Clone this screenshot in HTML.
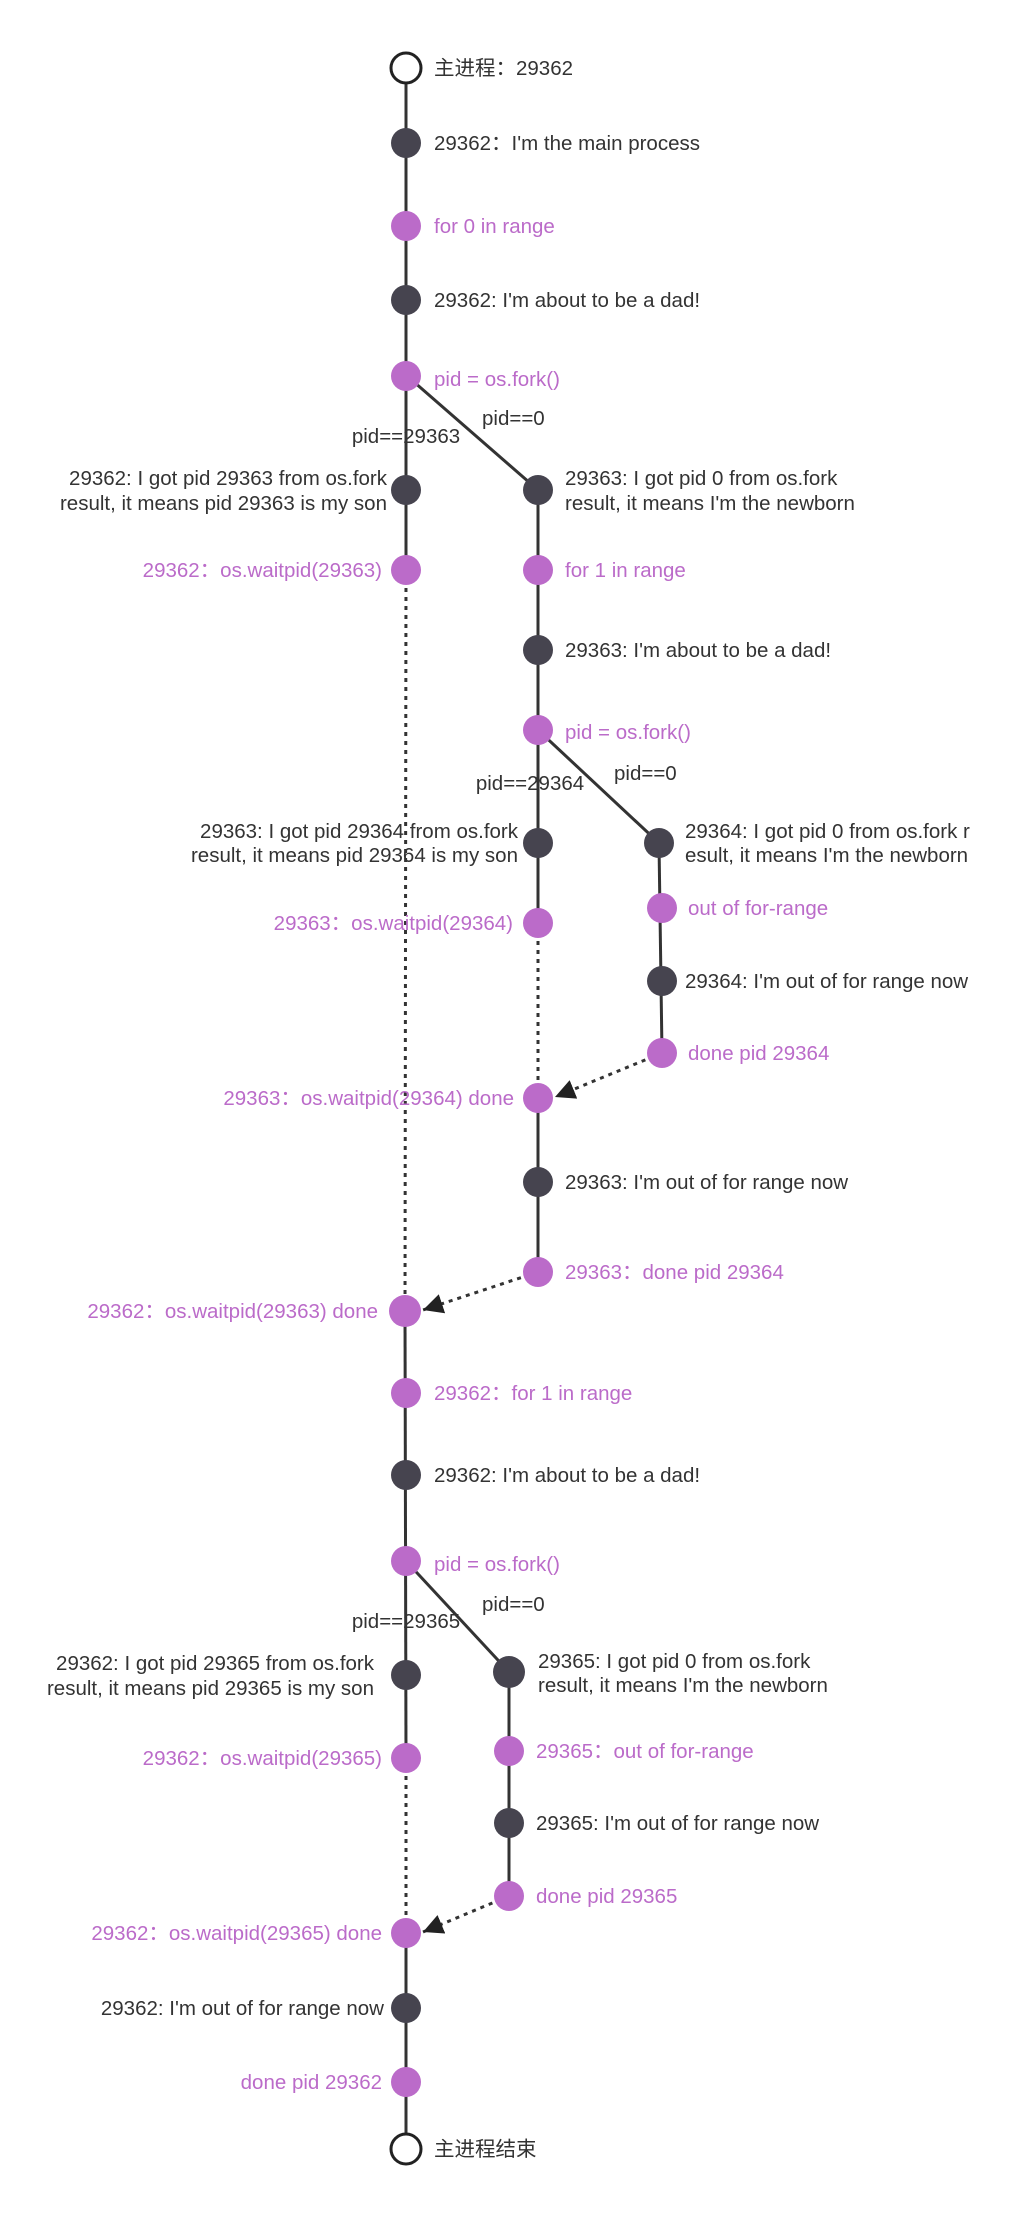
<!DOCTYPE html>
<html><head><meta charset="utf-8"><style>
html,body{margin:0;padding:0;background:#fff;}
svg{display:block;}
text{font-family:"Liberation Sans","Noto Sans CJK SC",sans-serif;font-size:20.5px;fill:#333;}
.p{fill:#bb6bc9;}
.e{text-anchor:end;}
.m{text-anchor:middle;}
</style></head><body>
<svg width="1023" height="2217" viewBox="0 0 1023 2217" xmlns="http://www.w3.org/2000/svg">
<defs>
<marker id="ar2" viewBox="0 0 10 10" markerWidth="20" markerHeight="20" refX="10" refY="5" orient="auto" markerUnits="userSpaceOnUse"><path d="M0,0 L10,5 L0,10 z" fill="#222"/></marker></defs>
<g stroke="#333" stroke-width="3" fill="none">
<line x1="406" y1="68" x2="406" y2="570"/>
<line x1="406" y1="375" x2="538" y2="490"/>
<line x1="538" y1="490" x2="538" y2="923"/>
<line x1="538" y1="730" x2="659" y2="843"/>
<line x1="659" y1="843" x2="662" y2="1053"/>
<line x1="538" y1="1098" x2="538" y2="1272"/>
<line x1="405" y1="1311" x2="406" y2="1758"/>
<line x1="406" y1="1933" x2="406" y2="2149"/>
<line x1="406" y1="1561" x2="509" y2="1672"/>
<line x1="509" y1="1672" x2="509" y2="1896"/>
</g>
<g stroke="#333" stroke-width="3" stroke-dasharray="4,5" fill="none">
<line x1="406" y1="570" x2="405" y2="1311"/>
<line x1="538" y1="923" x2="538" y2="1098"/>
<line x1="406" y1="1758" x2="406" y2="1933"/>
<line x1="662" y1="1053" x2="555" y2="1097" marker-end="url(#ar2)"/>
<line x1="538" y1="1272" x2="423" y2="1310" marker-end="url(#ar2)"/>
<line x1="509" y1="1896" x2="423" y2="1932" marker-end="url(#ar2)"/>
</g>
<g fill="#46444f">
<circle cx="406" cy="143" r="15"/><circle cx="406" cy="300" r="15"/>
<circle cx="406" cy="490" r="15"/><circle cx="538" cy="490" r="15"/>
<circle cx="538" cy="650" r="15"/><circle cx="538" cy="843" r="15"/>
<circle cx="659" cy="843" r="15"/><circle cx="662" cy="981" r="15"/>
<circle cx="538" cy="1182" r="15"/><circle cx="406" cy="1475" r="15"/>
<circle cx="406" cy="1675" r="15"/><circle cx="509" cy="1672" r="16"/>
<circle cx="509" cy="1823" r="15"/><circle cx="406" cy="2008" r="15"/>
</g>
<g fill="#bb6bc9">
<circle cx="406" cy="226" r="15"/><circle cx="406" cy="376" r="15"/>
<circle cx="406" cy="570" r="15"/><circle cx="538" cy="570" r="15"/>
<circle cx="538" cy="730" r="15"/><circle cx="538" cy="923" r="15"/>
<circle cx="662" cy="908" r="15"/><circle cx="662" cy="1053" r="15"/>
<circle cx="538" cy="1098" r="15"/><circle cx="538" cy="1272" r="15"/>
<circle cx="405" cy="1311" r="16"/><circle cx="406" cy="1393" r="15"/>
<circle cx="406" cy="1561" r="15"/><circle cx="406" cy="1758" r="15"/>
<circle cx="509" cy="1751" r="15"/><circle cx="509" cy="1896" r="15"/>
<circle cx="406" cy="1933" r="15"/><circle cx="406" cy="2082" r="15"/>
</g>
<circle cx="406" cy="68" r="15" fill="#fff" stroke="#222" stroke-width="3"/>
<circle cx="406" cy="2149" r="15" fill="#fff" stroke="#222" stroke-width="3"/>

<text x="434" y="75">主进程：29362</text>
<text x="434" y="150">29362：I'm the main process</text>
<text class="p" x="434" y="233">for 0 in range</text>
<text x="434" y="307">29362: I'm about to be a dad!</text>
<text class="p" x="434" y="386">pid = os.fork()</text>
<text x="482" y="425">pid==0</text>
<text class="m" x="406" y="443">pid==29363</text>
<text class="e" x="387" y="485">29362: I got pid 29363 from os.fork</text>
<text class="e" x="387" y="510">result, it means pid 29363 is my son</text>
<text x="565" y="485">29363: I got pid 0 from os.fork</text>
<text x="565" y="510">result, it means I'm the newborn</text>
<text class="p e" x="382" y="577">29362：os.waitpid(29363)</text>
<text class="p" x="565" y="577">for 1 in range</text>
<text x="565" y="657">29363: I'm about to be a dad!</text>
<text class="p" x="565" y="739">pid = os.fork()</text>
<text x="614" y="780">pid==0</text>
<text class="m" x="530" y="790">pid==29364</text>
<text class="e" x="518" y="838">29363: I got pid 29364 from os.fork</text>
<text class="e" x="518" y="862">result, it means pid 29364 is my son</text>
<text x="685" y="838">29364: I got pid 0 from os.fork r</text>
<text x="685" y="862">esult, it means I'm the newborn</text>
<text class="p e" x="513" y="930">29363：os.waitpid(29364)</text>
<text class="p" x="688" y="915">out of for-range</text>
<text x="685" y="988">29364: I'm out of for range now</text>
<text class="p" x="688" y="1060">done pid 29364</text>
<text class="p e" x="514" y="1105">29363：os.waitpid(29364) done</text>
<text x="565" y="1189">29363: I'm out of for range now</text>
<text class="p" x="565" y="1279">29363：done pid 29364</text>
<text class="p e" x="378" y="1318">29362：os.waitpid(29363) done</text>
<text class="p" x="434" y="1400">29362：for 1 in range</text>
<text x="434" y="1482">29362: I'm about to be a dad!</text>
<text class="p" x="434" y="1571">pid = os.fork()</text>
<text x="482" y="1611">pid==0</text>
<text class="m" x="406" y="1628">pid==29365</text>
<text class="e" x="374" y="1670">29362: I got pid 29365 from os.fork</text>
<text class="e" x="374" y="1695">result, it means pid 29365 is my son</text>
<text x="538" y="1668">29365: I got pid 0 from os.fork</text>
<text x="538" y="1692">result, it means I'm the newborn</text>
<text class="p e" x="382" y="1765">29362：os.waitpid(29365)</text>
<text class="p" x="536" y="1758">29365：out of for-range</text>
<text x="536" y="1830">29365: I'm out of for range now</text>
<text class="p" x="536" y="1903">done pid 29365</text>
<text class="p e" x="382" y="1940">29362：os.waitpid(29365) done</text>
<text class="e" x="384" y="2015">29362: I'm out of for range now</text>
<text class="p e" x="382" y="2089">done pid 29362</text>
<text x="434" y="2156">主进程结束</text>
</svg>
</body></html>
